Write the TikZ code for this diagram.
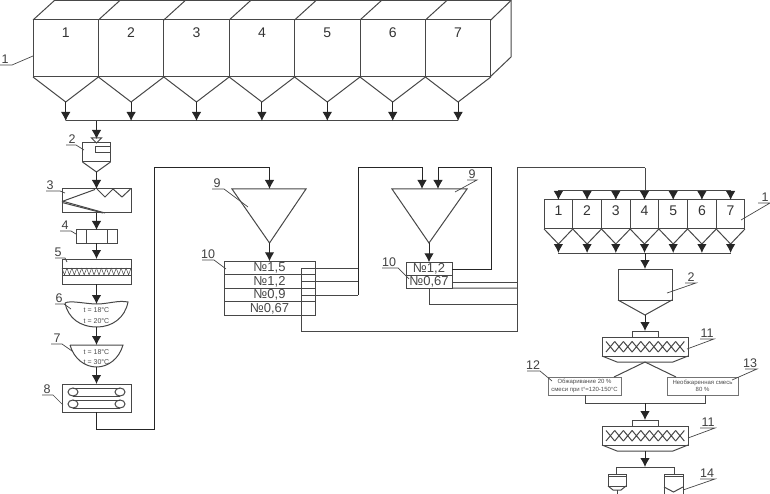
\documentclass[tikz,border=0pt]{standalone}
\usepackage{fontspec}
\setmainfont{Liberation Sans}
\usetikzlibrary{arrows.meta,positioning}

\begin{document}
\begin{tikzpicture}[
  x=1pt,y=-1pt,
  color=black!72,line width=1pt,
  object/.style={draw,rectangle,inner sep=0pt,outer sep=0pt},
  bin/.style={object,minimum width=65.4pt,minimum height=57pt},
  smallbin/.style={object,minimum width=28.7pt,minimum height=29pt},
  sieve/.style={object,minimum width=91pt,minimum height=13.5pt,font=\fontsize{13}{13}\selectfont},
  sievetwo/.style={sieve,minimum width=46pt},
  tag/.style={inner sep=0pt,text=black!75,font=\fontsize{12.5}{12.5}\selectfont},
  digit/.style={inner sep=0pt,text=black!80,font=\fontsize{14}{14}\selectfont},
  temp/.style={inner sep=0pt,text=black!70,font=\fontsize{7}{7}\selectfont},
  note/.style={object,align=center,text=black!70,draw=black!55,line width=0.9pt,font=\fontsize{6}{7.5}\selectfont},
  flow/.style={-{Latex[length=9pt,width=9.5pt]},color=black!85},
  leader/.style={line width=0.7pt}
]
  \useasboundingbox (0,0) rectangle (770,494);

  % storage bins, first row
  \draw (55,0.5) -- (511,0.5) -- (511,57) -- (490,77);
  \foreach \i/\x in {1/65.7,2/131.1,3/196.5,4/261.9,5/327.3,6/392.7,7/458.1}{
    \node[bin] (b\i) at (\x,48.5) {};
    \node[digit] (n\i) at (\x,33) {\i};
    \draw (b\i.north west) -- ++(22,-20);
    \draw (b\i.south west) -- ++(32.7,25) coordinate (t\i) -- (b\i.south east);
  }
  \draw (b7.north east) -- (511,0.5);
  \coordinate (busl) at (65.7,121);
  \coordinate (busr) at (458.1,121);
  \draw (busl) -- (busr);
  \foreach \i in {1,...,7}
    \draw[flow] (t\i) -- (t\i |- busl);

  % left column
  \node[object,minimum width=28pt,minimum height=19pt] (hop) at (96.5,152.5) {};
  \node[object,minimum width=15pt,minimum height=6pt,anchor=north east] (hopin) at (110.5,147) {};
  \draw (hop.south west) -- (96.5,172) coordinate (hoptip) -- (hop.south east);
  \draw[flow] (96.5,121) -- (96.5,139);
  \draw (91.5,138) -- (101.5,138) -- (96.5,143) -- cycle;

  \node[object,minimum width=69pt,minimum height=24pt] (screen) at (96.5,201) {};
  \draw (screen.west) ++(0,0.5) -- (95,189.5);
  \draw (screen.west) -- (105,213);
  \draw (screen.west) ++(0,1.5) -- (103,213);
  \draw (97,189) -- (105,197) -- (113,189) -- (122,197) -- (130.5,189);

  \node[object,minimum width=41pt,minimum height=13pt] (feed) at (96.5,236.5) {};
  \draw (86,230) -- (86,243) (107,230) -- (107,243);

  \node[object,minimum width=69pt,minimum height=25pt] (press) at (96.5,271.5) {};
  \draw (62,268) -- (131,268) (62,275) -- (131,275);
  \foreach \k in {0,...,13}
    \draw[line width=0.5pt] (62+\k*4.93,268) -- (64.46+\k*4.93,275) -- (66.93+\k*4.93,268);

  \draw (65,303) .. controls (70,300) and (86,304) .. (97,304)
    .. controls (108,304) and (118,300) .. (128,302)
    .. controls (125,318) and (112,327) .. (97,327)
    .. controls (80,327) and (68,318) .. (65,303);
  \coordinate (drumin) at (96.5,304);
  \coordinate (drumout) at (96.5,327);
  \node[temp] (ta) at (96.5,310) {t = 18°C};
  \node[temp] (tb) at (96.5,321) {t = 20°C};

  \draw (70,345) -- (123,345) .. controls (119,359) and (108,367) .. (96.5,367)
    .. controls (85,367) and (74,359) .. (70,345);
  \coordinate (coolin) at (96.5,345);
  \coordinate (coolout) at (96.5,367);
  \node[temp] (tc) at (96.5,352) {t = 18°C};
  \node[temp] (td) at (96.5,362) {t = 30°C};

  \node[object,minimum width=69pt,minimum height=28pt] (belt) at (96.5,398) {};
  \foreach \y in {392,404}{
    \draw (73,\y-4) -- (120,\y-4) (73,\y+4) -- (120,\y+4);
    \draw (73,\y) ellipse (5pt and 4pt);
    \draw (120,\y) ellipse (5pt and 4pt);
  }

  \draw[flow] (hoptip) -- (screen.north);
  \draw[flow] (screen.south) -- (feed.north);
  \draw[flow] (feed.south) -- (press.north);
  \draw[flow] (press.south) -- (drumin);
  \draw[flow] (drumout) -- (coolin);
  \draw[flow] (coolout) -- (belt.north);

  % grinding and sieving
  \coordinate (grinda) at (269.5,243);
  \draw (232,189) -- (306,189) -- (grinda) -- cycle;
  \node[sieve] (sa1) at (269.5,268) {№1,5};
  \node[sieve,below=0pt of sa1] (sa2) {№1,2};
  \node[sieve,below=0pt of sa2] (sa3) {№0,9};
  \node[sieve,below=0pt of sa3] (sa4) {№0,67};
  \draw[flow] (grinda) -- (sa1.north);

  \coordinate (grindb) at (429,243);
  \draw (392,189) -- (467,189) -- (grindb) -- cycle;
  \node[sievetwo] (sb1) at (429,269) {№1,2};
  \node[sievetwo,below=0pt of sb1,minimum height=12.5pt] (sb2) {№0,67};
  \draw[flow] (grindb) -- (sb1.north);

  % pipes between the grinders
  \draw[flow] (belt.south) -- (96.5,429) -- (154,429) -- (154,168) -- (269.5,168) -- (269.5,189);
  \foreach \i in {1,2,3}
    \draw (301,0 |- sa\i) -- (358,0 |- sa\i);
  \draw[flow] (358,0 |- sa3) -- (358,168) -- (422,168) -- (422,189);
  \draw[flow] (sb1.east) -- (491,0 |- sb1) -- (491,168) -- (438,168) -- (438,189);
  \draw (301,0 |- sa1) -- (301,331) -- (517,331) -- (517,168) -- (645,168);
  \draw (sb2.east) -- (517,0 |- sb2);
  \draw (sb2.south east) -- (517,288);
  \draw (sb2.south) -- (429,304) -- (517,304);

  % second row of bins
  \foreach \i/\x in {1/558.4,2/587.1,3/615.8,4/644.5,5/673.2,6/701.9,7/730.6}{
    \node[smallbin] (c\i) at (\x,214.5) {};
    \node[digit] (m\i) at (\x,211) {\i};
    \draw (c\i.south west) -- ++(14.35,15) coordinate (u\i) -- (c\i.south east);
    \coordinate (topc\i) at (\x,191);
    \coordinate (botc\i) at (\x,253);
    \draw[flow] (topc\i) -- (c\i.north);
    \draw[flow] (u\i) -- (botc\i);
  }
  \draw (topc1) -- (topc7);
  \draw (botc1) -- (botc7);
  \draw (645,168) -- (645,191);

  % mixing
  \node[object,minimum width=54pt,minimum height=31pt] (hopb) at (645,284.5) {};
  \draw (hopb.south west) -- (645,315) coordinate (hopbtip) -- (hopb.south east);
  \draw[flow] (645,253) -- (hopb.north);

  \foreach \m/\y in {ma/337,mb/426}{
    \node[object,minimum width=86pt,minimum height=19pt,anchor=north] (\m) at (645,\y) {};
    \node[object,minimum width=26pt,minimum height=6pt,anchor=south] (\m-in) at (645,\y) {};
    \draw (\m.south west) -- (617,\y+25) -- (673,\y+25) -- (\m.south east);
    \foreach \k in {0,...,8}
      \draw (606+\k*8.7,\y+4.5) .. controls (610+\k*8.7,\y+9) .. (614.7+\k*8.7,\y+15)
            (606+\k*8.7,\y+15) .. controls (610+\k*8.7,\y+10) .. (614.7+\k*8.7,\y+4.5);
  }
  \draw[flow] (hopbtip) -- (ma-in.north);

  \node[note,minimum width=73pt,minimum height=18pt] (roast) at (584.5,386)
    {Обжаривание 20 \%\\смеси при t°=120-150°C};
  \node[note,minimum width=71pt,minimum height=18pt] (raw) at (702.5,386)
    {Необжаренная смесь\\80 \%};
  \coordinate (split) at (645,362);
  \draw (split) -- (614,377);
  \draw (split) -- (676,377);
  \coordinate (joint) at (645,403);
  \draw (585,395) -- (585,403) -- (705,403) -- (705,395);
  \draw[flow] (joint) -- (mb-in.north);

  % packing
  \coordinate (packbar) at (645,467);
  \draw[flow] (645,451) -- (packbar);
  \draw (616,474) -- (616,467) -- (674,467) -- (674,474);
  \node[object,minimum width=18pt,minimum height=12pt,anchor=north] (packa) at (617,474) {};
  \draw (608,486) -- (613,490) -- (621,490) -- (626,486);
  \draw (617,490) -- (617,494);
  \draw (608,476.5) -- (626,476.5);
  \node[object,minimum width=19pt,minimum height=21pt,anchor=north] (packb) at (673.5,474) {};
  \draw (664,476.5) -- (683,476.5);
  \draw (664,487) -- (673.5,492) -- (683,487);

  % reference numbers
  \foreach \t/\s/\x/\y/\ax/\bx/\ux/\uy in {
    1/la/5/59/0/12/33/56,
    2/lb/72/139/66/76/84/150,
    3/lc/50/185/46/60/65/193,
    4/ld/65/225/60/71/76/234,
    5/le/58/252/55/65/67/262,
    6/lf/59/298/55/64/71/309,
    7/lg/57/338/51/62/72/351,
    8/lh/47/389/42/53/63/405,
    9/li/217/183/212/224/248/207,
    9/lj/472/174/467/477/455/192,
    10/lk/208/254/202/214/226/269,
    10/ll/389/262/382/398/409/279,
    1/lm/765/197/758/770/741/220,
    2/ln/691/277/685/696/667/293,
    11/lo/707/333/700/714/687/349,
    12/lp/533/365/527/540/552/381,
    13/lq/750/363/745/757/732/380,
    11/lr/708/422/700/715/688/438,
    14/ls/707/473/700/715/683/490}{
    \node[tag] (\s) at (\x,\y) {\t};
    \draw[leader] (\ax,\y+6) -- (\bx,\y+6) -- (\ux,\uy);
  }
\end{tikzpicture}
\end{document}
